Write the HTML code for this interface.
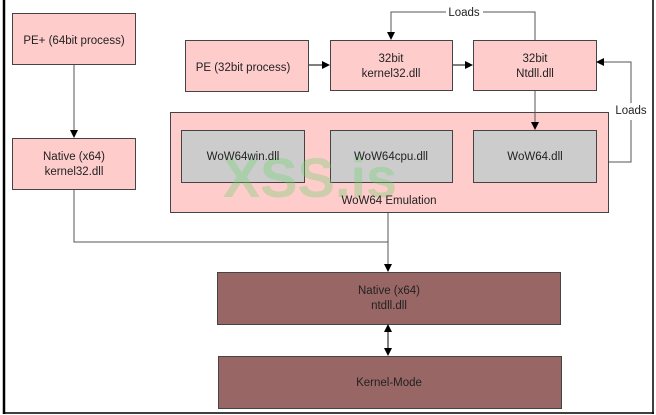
<!DOCTYPE html>
<html><head><meta charset="utf-8"><style>
body{margin:0;background:#fff;}
svg{display:block;font-family:"Liberation Sans",sans-serif;}
</style></head><body>
<svg width="656" height="415" viewBox="0 0 656 415" xmlns="http://www.w3.org/2000/svg">
<defs><marker id="a" markerWidth="8" markerHeight="8" refX="7" refY="4" orient="auto" markerUnits="userSpaceOnUse"><path d="M0,0 L8,4 L0,8 z" fill="#000"/></marker></defs>
<rect x="0" y="0" width="656" height="415" fill="#fff"/>
<line x1="4" y1="0" x2="4" y2="414" stroke="#000" stroke-width="2.5"/>
<line x1="653" y1="0" x2="653" y2="414" stroke="#000" stroke-width="1.5"/>
<line x1="3" y1="413" x2="654" y2="413" stroke="#000" stroke-width="1.5"/>
<g stroke="#444" stroke-width="1" font-size="11.5" text-anchor="middle">
<rect x="12.5" y="13.5" width="123" height="51" fill="#ffcccc"/>
<rect x="12.5" y="138.5" width="123" height="51" fill="#ffcccc"/>
<rect x="185.5" y="40.5" width="123" height="51" fill="#ffcccc"/>
<rect x="330.5" y="40.5" width="122" height="50" fill="#ffcccc"/>
<rect x="473.5" y="40.5" width="123" height="50" fill="#ffcccc"/>
<rect x="170.5" y="112.5" width="438" height="100" fill="#ffcccc"/>
<rect x="181.5" y="130.5" width="123" height="52" fill="#cccccc"/>
<rect x="330.5" y="130.5" width="122" height="52" fill="#cccccc"/>
<rect x="473.5" y="130.5" width="123" height="52" fill="#cccccc"/>
<rect x="217.5" y="272.5" width="343" height="52" fill="#996666"/>
<rect x="218.5" y="356.5" width="343" height="52" fill="#996666"/>
</g>
<text x="310" y="197" font-size="56" font-weight="bold" fill="rgba(110,210,110,0.35)" text-anchor="middle" font-family="Liberation Sans,sans-serif">XSS.is</text>
<g fill="#222" font-size="11.5" text-anchor="middle">
<text x="74" y="44">PE+ (64bit process)</text>
<text x="74" y="160">Native (x64)</text><text x="74" y="175">kernel32.dll</text>
<text x="243" y="71">PE (32bit process)</text>
<text x="391" y="62">32bit</text><text x="391" y="77">kernel32.dll</text>
<text x="535" y="62">32bit</text><text x="535" y="77">Ntdll.dll</text>
<text x="243" y="160">WoW64win.dll</text>
<text x="391" y="160">WoW64cpu.dll</text>
<text x="535" y="160">WoW64.dll</text>
<text x="389" y="204">WoW64 Emulation</text>
<text x="389" y="294">Native (x64)</text><text x="389" y="309">ntdll.dll</text>
<text x="389" y="386">Kernel-Mode</text>
<text x="464" y="16">Loads</text>
<text x="631" y="114">Loads</text>
</g>
<g fill="none" stroke="#555" stroke-width="1">
<line x1="74" y1="65" x2="74" y2="137" marker-end="url(#a)"/>
<polyline points="74,190 74,242 388,242"/>
<line x1="388" y1="213" x2="388" y2="271" marker-end="url(#a)"/>
<line x1="535" y1="91" x2="535" y2="129" marker-end="url(#a)"/>
<polyline points="535,40 535,12 483,12"/>
<polyline points="446,12 391,12 391,39" marker-end="url(#a)"/>
<polyline points="609,162 631,162 631,120"/>
<polyline points="631,103 631,62 597,62" marker-end="url(#a)"/>
</g>
<g stroke="#000" stroke-width="1">
<line x1="309" y1="65" x2="329" y2="65" marker-end="url(#a)"/>
<line x1="453" y1="65" x2="472" y2="65" marker-end="url(#a)"/>
<line x1="388" y1="335" x2="388" y2="355" marker-end="url(#a)"/>
<line x1="388" y1="345" x2="388" y2="325" marker-end="url(#a)"/>
</g>
</svg>
</body></html>
